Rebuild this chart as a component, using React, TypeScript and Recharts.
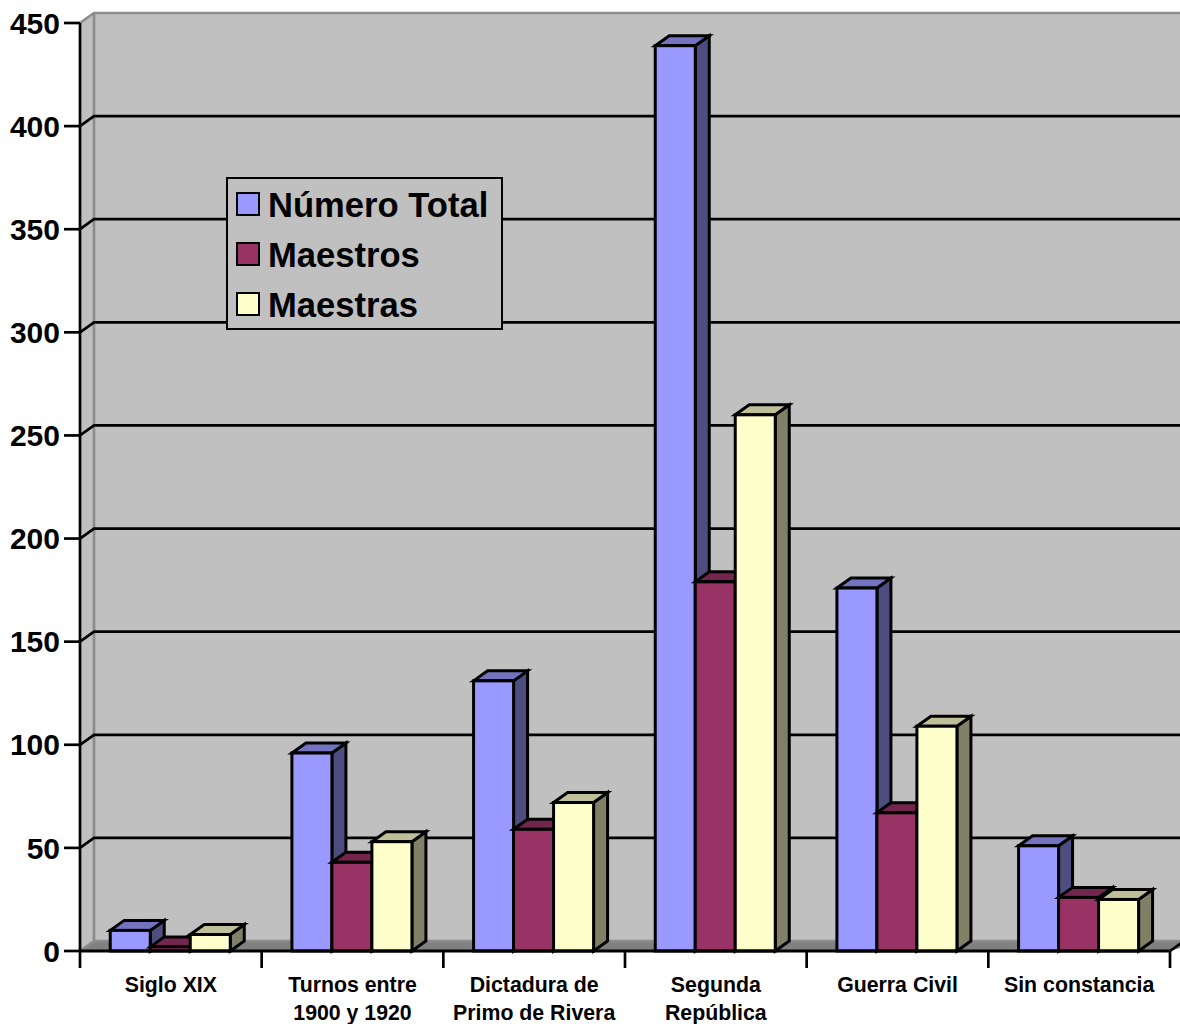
import React from 'react';
import { BarChart, Bar, XAxis, YAxis, CartesianGrid, Legend } from 'recharts';

const categories = ['Siglo XIX', 'Turnos entre\n1900 y 1920', 'Dictadura de\nPrimo de Rivera', 'Segunda\nRepública', 'Guerra Civil', 'Sin constancia'];
const numeroTotal = [10, 96, 131, 439, 176, 51];
const maestros = [2, 43, 59, 179, 67, 26];
const maestras = [8, 53, 72, 260, 109, 25];
const yTicks = [0, 50, 100, 150, 200, 250, 300, 350, 400, 450];

const data = categories.map((name, i) => ({
  name,
  total: numeroTotal[i],
  maestros: maestros[i],
  maestras: maestras[i],
}));

const W = 1180, H = 1024;
const LEFT = 80, RIGHT = 1170, TOP = 23, BOTTOM = 951;
const DX = 14, DY = -10;
const FONT = '"Liberation Sans", Arial, sans-serif';
const WALL = '#C0C0C0', EDGE = '#808080';
const BAND = (RIGHT - LEFT) / categories.length;

const makeBar = (top: string, side: string) => (p: any) => {
  const { x, y, width, height, fill } = p;
  const common = { stroke: '#000', strokeWidth: 3, strokeLinejoin: 'miter' as const };
  return (
    <g>
      <polygon points={`${x + width},${y} ${x + width + DX},${y + DY} ${x + width + DX},${y + height + DY} ${x + width},${y + height}`} fill={side} {...common} />
      <polygon points={`${x},${y} ${x + DX},${y + DY} ${x + width + DX},${y + DY} ${x + width},${y}`} fill={top} {...common} />
      <rect x={x} y={y} width={width} height={height} fill={fill} {...common} />
    </g>
  );
};

const gridLine = (p: any) => {
  const { y1, index, key } = p;
  // first/last lines (top and bottom of the value range) are drawn as the grey wall edges
  if (y1 <= TOP + 1 || y1 >= BOTTOM - 1) return <g key={key ?? index} />;
  return (
    <path key={key ?? index} d={`M${LEFT},${y1} L${LEFT + DX},${y1 + DY} L${W + 4},${y1 + DY}`} fill="none" stroke="#000" strokeWidth={2.7} />
  );
};

const CategoryTick = (p: any) => {
  const { x, payload, index } = p;
  const lines = String(payload.value).split('\n');
  const left = x - BAND / 2;
  return (
    <g>
      <line x1={left} x2={left} y1={BOTTOM} y2={BOTTOM + 17} stroke="#000" strokeWidth={2.7} />
      {index === categories.length - 1 && (
        <line x1={left + BAND} x2={left + BAND} y1={BOTTOM} y2={BOTTOM + 17} stroke="#000" strokeWidth={2.7} />
      )}
      {lines.map((t, i) => (
        <text key={i} x={x} y={BOTTOM + 41 + i * 28} textAnchor="middle" fontFamily={FONT} fontWeight={700} fontSize={21.3} fill="#000">{t}</text>
      ))}
    </g>
  );
};

const LegendBox = (p: any) => (
  <div style={{ position: 'relative', width: 277, height: 153, boxSizing: 'border-box', border: '2.7px solid #000', background: WALL, fontFamily: FONT, fontWeight: 700, fontSize: 34.6, color: '#000' }}>
    {(p.payload || []).map((e: any, i: number) => (
      <div key={i}>
        <div style={{ position: 'absolute', left: 8.5, top: 13 + i * 50, width: 24, height: 24, boxSizing: 'border-box', border: '2.7px solid #000', background: e.color }} />
        <div style={{ position: 'absolute', left: 40.5, top: 5 + i * 50, lineHeight: '42px', whiteSpace: 'nowrap' }}>{e.value}</div>
      </div>
    ))}
  </div>
);

const Walls = () => (
  <svg width={W} height={H} style={{ position: 'absolute', left: 0, top: 0 }}>
    <polygon points={`${LEFT + DX},${TOP + DY} ${W + 4},${TOP + DY} ${W + 4},${BOTTOM + DY} ${LEFT + DX},${BOTTOM + DY}`} fill={WALL} />
    <polygon points={`${LEFT},${TOP} ${LEFT + DX},${TOP + DY} ${LEFT + DX},${BOTTOM + DY} ${LEFT},${BOTTOM}`} fill={WALL} />
    <polygon points={`${LEFT},${BOTTOM} ${LEFT + DX},${BOTTOM + DY} ${W + 24},${BOTTOM + DY} ${RIGHT},${BOTTOM}`} fill={EDGE} />
    <path d={`M${LEFT},${TOP} L${LEFT + DX},${TOP + DY} L${W + 4},${TOP + DY} M${LEFT + DX},${TOP + DY} L${LEFT + DX},${BOTTOM + DY} L${W + 4},${BOTTOM + DY} M${LEFT},${BOTTOM} L${LEFT + DX},${BOTTOM + DY}`} fill="none" stroke="#8C8C8C" strokeWidth={2.7} />
    <path d={`M${RIGHT},${BOTTOM} L${W + 4},${BOTTOM - 10}`} fill="none" stroke="#000" strokeWidth={2.7} />
  </svg>
);

export default function App() {
  return (
    <div style={{ position: 'absolute', left: 0, top: 0, width: W, height: H, overflow: 'hidden', background: '#fff' }}>
      <Walls />
      <BarChart
        width={W}
        height={H}
        data={data}
        barCategoryGap="16.65%"
        barGap={0}
        margin={{ left: 0, top: TOP, right: W - RIGHT, bottom: 0 }}
        style={{ position: 'absolute', left: 0, top: 0 }}
      >
        <CartesianGrid vertical={false} horizontal={gridLine} />
        <XAxis
          dataKey="name"
          interval={0}
          tickLine={false}
          axisLine={{ stroke: '#000', strokeWidth: 3 }}
          tick={<CategoryTick />}
          height={H - BOTTOM}
        />
        <YAxis
          domain={[0, 450]}
          ticks={yTicks}
          interval={0}
          width={LEFT}
          tickSize={16}
          tickMargin={4}
          tickLine={{ stroke: '#000', strokeWidth: 2.7 }}
          axisLine={{ stroke: '#000', strokeWidth: 2.7 }}
          tick={{ fontFamily: FONT, fontWeight: 700, fontSize: 30, fill: '#000' }}
        />
        <Legend
          layout="vertical"
          align="center"
          verticalAlign="middle"
          itemSorter={null as any}
          content={<LegendBox />}
          wrapperStyle={{ position: 'absolute', left: 225.5, top: 177, width: 277, height: 153, transform: 'none' }}
        />
        <Bar dataKey="total" name="Número Total" fill="#9999FF" isAnimationActive={false} shape={makeBar('#7373BF', '#4D4D80')} />
        <Bar dataKey="maestros" name="Maestros" fill="#993366" isAnimationActive={false} shape={makeBar('#73264D', '#4D1A33')} />
        <Bar dataKey="maestras" name="Maestras" fill="#FFFFCC" isAnimationActive={false} shape={makeBar('#BFBF99', '#808066')} />
      </BarChart>
    </div>
  );
}
